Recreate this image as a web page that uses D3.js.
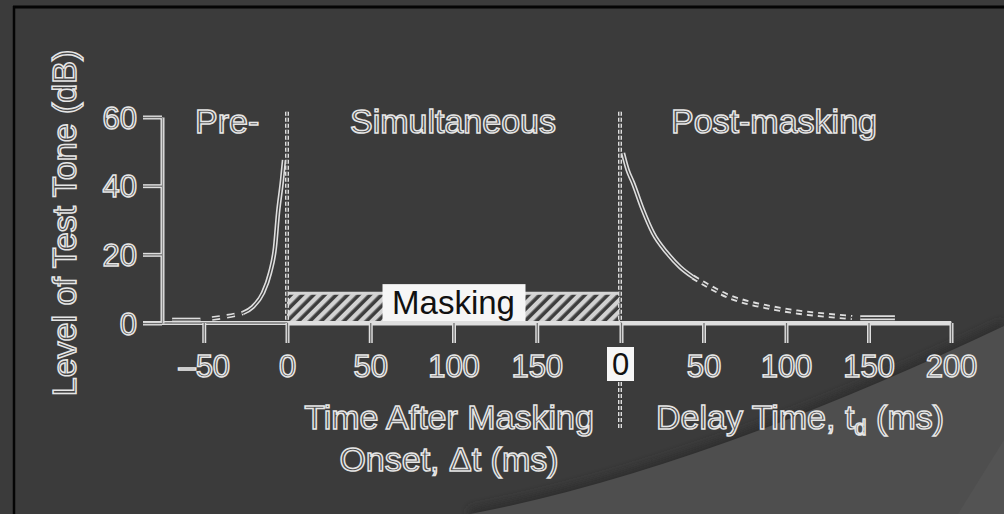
<!DOCTYPE html>
<html>
<head>
<meta charset="utf-8">
<script src="https://cdn.jsdelivr.net/npm/d3@7"></script>
<style>
  html, body { margin: 0; padding: 0; background: #3b3b3b; }
  svg { display: block; }
  .outline { font-family: "Liberation Sans", Arial, sans-serif; fill: #474747; stroke: #e6e6e6; stroke-width: 1.5px; }
  .solidtxt { font-family: "Liberation Sans", Arial, sans-serif; fill: #111; }
</style>
</head>
<body>
<script>
// ---- data ----------------------------------------------------------------
// Left panel: time relative to masker onset (ms); right panel: delay after masker offset (ms)
const leftTicks = [-50, 0, 50, 100, 150];
const rightTicks = [0, 50, 100, 150, 200];
const levelTicks = [0, 20, 40, 60];

// Pre-masking threshold (ms, dB)
const preFlat  = [[-69, 0.9], [-52, 0.9]];
const preDash  = [[-45, 1.3], [-38, 1.8], [-30, 2.5], [-26.5, 2.9]];
const preSolid = [[-26.5, 2.9], [-20.5, 4.7], [-14.5, 8.7], [-10.2, 14.6], [-7.2, 22.1],
                  [-5.4, 32], [-3, 41.6], [-1.8, 47.5]];

// Post-masking threshold (ms, dB)
const postSolid = [[1.2, 49.5], [4, 44.6], [7.3, 40.8], [13.3, 32.9], [19.4, 26.2],
                   [27.9, 20.4], [35.8, 16.3], [43.6, 13.4]];
const postDash  = [[43.6, 13.4], [53.9, 10.5], [66, 7.6], [78.2, 5.8], [88.5, 4.7],
                   [106.7, 3.2], [123.6, 2.3], [140, 1.6]];
const postFlat  = [[145, 1.5], [166, 1.5]];

// Masker: on from 0 to 200 ms, bar height in dB
const maskerSpan = [0, 200];
const maskerLevel = 8.7;

const panelLabels = ["Pre-", "Simultaneous", "Post-masking"];

// ---- layout ---------------------------------------------------------------
const W = 1004, H = 514;
const svg = d3.select("body").append("svg").attr("width", W).attr("height", H);

const y = d3.scaleLinear().domain([0, 60]).range([323, 117]);
const xL = d3.scaleLinear().domain([0, 200]).range([287, 620]);
const xR = d3.scaleLinear().domain([0, 200]).range([621, 951]);

const LIGHT = "#dedede", CORE = "#3f3f3f";

// ---- background and frame --------------------------------------------------
svg.append("rect").attr("width", W).attr("height", H).attr("fill", "#3b3b3b");
const defs = svg.append("defs");
defs.append("filter").attr("id", "soft").append("feGaussianBlur").attr("stdDeviation", 4);

const wedge = d3.path();
wedge.moveTo(470, 514);
wedge.quadraticCurveTo(700, 470, 1004, 326);
wedge.lineTo(1004, 514);
wedge.closePath();
const edge = d3.path();
edge.moveTo(470, 514);
edge.quadraticCurveTo(700, 470, 1004, 326);
svg.append("path").attr("d", edge.toString()).attr("fill", "none")
  .attr("stroke", "#2e2e2e").attr("stroke-width", 10).attr("filter", "url(#soft)");
svg.append("path").attr("d", wedge.toString()).attr("fill", "#4e4e4e");
svg.append("path").attr("d", "M958,514 L1004,440 L1004,514 Z").attr("fill", "#535353");

svg.append("line").attr("x1", 13).attr("x2", W).attr("y1", 7).attr("y2", 7)
  .attr("stroke", "#050505").attr("stroke-width", 3);
svg.append("line").attr("x1", 14).attr("x2", 14).attr("y1", 6).attr("y2", H)
  .attr("stroke", "#050505").attr("stroke-width", 2.5);

// helper: draw a path twice, light outer and dark core, giving the outlined look
function doubleStroke(g, d, dash, outer = 4, inner = 1.3) {
  g.append("path").attr("d", d).attr("fill", "none").attr("stroke", LIGHT)
    .attr("stroke-width", outer).attr("stroke-dasharray", dash || null);
  g.append("path").attr("d", d).attr("fill", "none").attr("stroke", CORE)
    .attr("stroke-width", inner).attr("stroke-dasharray", dash || null);
}

// ---- masker bar with hatching ----------------------------------------------
const pat = defs.append("pattern").attr("id", "hatch").attr("patternUnits", "userSpaceOnUse")
  .attr("width", 8).attr("height", 8).attr("patternTransform", "rotate(45)");
pat.append("rect").attr("width", 8).attr("height", 8).attr("fill", "#3d3d3d");
pat.append("rect").attr("x", 0).attr("width", 4.4).attr("height", 8).attr("fill", "#d2d2d2");

svg.append("rect")
  .attr("x", xL(maskerSpan[0])).attr("y", y(maskerLevel))
  .attr("width", xL(maskerSpan[1]) - xL(maskerSpan[0]))
  .attr("height", y(0) - y(maskerLevel))
  .attr("fill", "url(#hatch)");
svg.append("line").attr("x1", xL(maskerSpan[0])).attr("x2", xL(maskerSpan[1]))
  .attr("y1", y(maskerLevel)).attr("y2", y(maskerLevel))
  .attr("stroke", "#d6d6d6").attr("stroke-width", 3);

// "Masking" label box
const midT = (maskerSpan[0] + maskerSpan[1]) / 2;
svg.append("rect").attr("x", xL(midT) - 71).attr("y", y(maskerLevel) - 9)
  .attr("width", 143).attr("height", 38).attr("fill", "#f6f6f6");
svg.append("text").attr("class", "solidtxt").attr("x", xL(midT)).attr("y", 314)
  .attr("text-anchor", "middle").attr("font-size", 33).text("Masking");

// ---- onset / offset markers (dotted) ----------------------------------------
const g = svg.append("g");
doubleStroke(g, `M${xL(0)},${y(61.5)}V${y(0)}`, "4,2", 4, 1.2);
doubleStroke(g, `M${xR(0) - 1},${y(61.5)}V${y(0)}`, "4,2", 4, 1.2);
doubleStroke(g, `M${xR(0) - 1},382V429`, "4,2", 4, 1.2);

// ---- axes --------------------------------------------------------------------
// base line of the time axis, from the level-axis zero tick to 200 ms
doubleStroke(g, `M143,${y(0)}H${xR(200)}`, null, 4, 1.2);

function styledAxis(axis, transform) {
  const outer = svg.append("g").attr("transform", transform).call(axis);
  outer.selectAll("text").remove();
  outer.select(".domain").attr("stroke", LIGHT).attr("stroke-width", 4);
  outer.selectAll(".tick line").attr("stroke", LIGHT).attr("stroke-width", 4);
  const inner = svg.append("g").attr("transform", transform).call(axis);
  inner.select(".domain").attr("stroke", "#8a8a8a").attr("stroke-width", 1.2);
  inner.selectAll(".tick line").attr("stroke", "#6a6a6a").attr("stroke-width", 1.2);
  inner.selectAll("text").attr("class", "outline").attr("fill", null)
    .attr("font-size", 31).attr("font-family", null);
  return inner;
}

const axL = d3.axisBottom(xL).tickValues(leftTicks).tickSize(20).tickPadding(12)
  .tickSizeOuter(0).tickFormat(d => d < 0 ? "\u2013" + Math.abs(d) : d);
const gL = styledAxis(axL, `translate(0,${y(0)})`);
gL.selectAll(".domain").remove();

const axR = d3.axisBottom(xR).tickValues(rightTicks).tickSize(20).tickPadding(12)
  .tickSizeOuter(0).tickFormat(d => d === 0 ? "" : d);
const gR = styledAxis(axR, `translate(0,${y(0)})`);
gR.selectAll(".domain").remove();

const axY = d3.axisLeft(y).tickValues(levelTicks).tickSize(19).tickPadding(6).tickSizeOuter(0);
const gY = styledAxis(axY, `translate(162,0)`);
gY.selectAll("text").attr("dy", "0.36em");

// boxed zero of the delay axis
svg.append("rect").attr("x", xR(0) - 14).attr("y", 347).attr("width", 27).attr("height", 34)
  .attr("fill", "#f6f6f6");
svg.append("text").attr("class", "solidtxt").attr("x", xR(0) - 0.5).attr("y", 375)
  .attr("text-anchor", "middle").attr("font-size", 31).text("0");

// ---- threshold curves -------------------------------------------------------
const lineL = d3.line().x(d => xL(d[0])).y(d => y(d[1])).curve(d3.curveMonotoneX);
const lineR = d3.line().x(d => xR(d[0])).y(d => y(d[1])).curve(d3.curveMonotoneX);

doubleStroke(g, lineL(preFlat), null, 4.5, 1.3);
doubleStroke(g, lineL(preDash), "8,7", 4.5, 1.3);
doubleStroke(g, lineL(preSolid), null, 4.5, 1.3);

doubleStroke(g, lineR(postSolid), null, 4.5, 1.3);
doubleStroke(g, lineR(postDash), "6,5", 5, 1.3);
doubleStroke(g, lineR(postFlat), null, 5, 1.5);

// ---- labels ------------------------------------------------------------------
const T = (x, yy, s, anchor = "middle", size = 34) =>
  svg.append("text").attr("class", "outline").attr("x", x).attr("y", yy)
    .attr("text-anchor", anchor).attr("font-size", size).text(s);

T(195, 133, panelLabels[0], "start");
T(453, 133, panelLabels[1]);
T(774, 133, panelLabels[2]);

T(449, 429, "Time After Masking");
T(449, 471, "Onset, \u0394t (ms)");

const dl = svg.append("text").attr("class", "outline").attr("x", 800).attr("y", 429)
  .attr("text-anchor", "middle").attr("font-size", 34);
dl.append("tspan").text("Delay Time, t");
dl.append("tspan").attr("font-size", 22).attr("dy", 6).text("d");
dl.append("tspan").attr("dy", -6).text(" (ms)");

svg.append("text").attr("class", "outline").attr("font-size", 34)
  .attr("text-anchor", "middle")
  .attr("transform", "translate(76,223) rotate(-90)")
  .text("Level of Test Tone (dB)");
</script>
</body>
</html>
